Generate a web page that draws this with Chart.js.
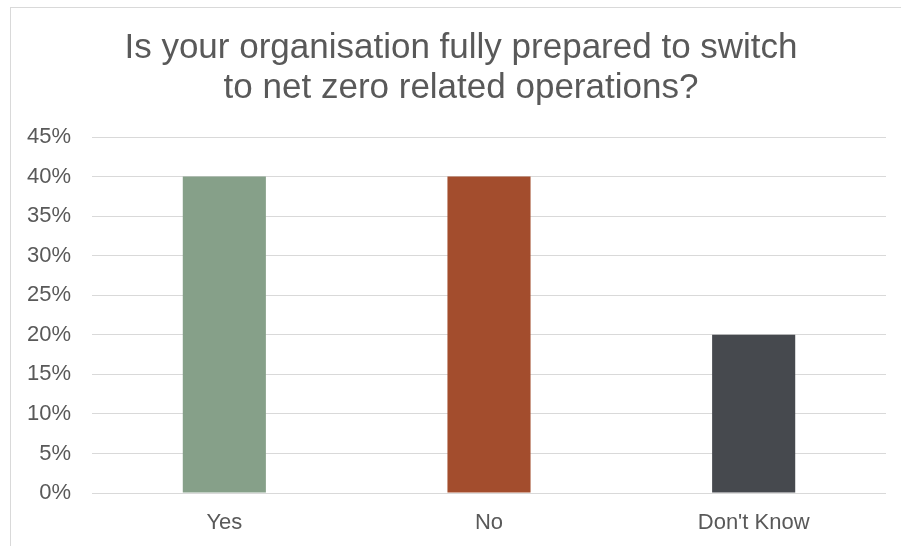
<!DOCTYPE html>
<html lang="en">
<head>
  <meta charset="UTF-8">
  <title>Net zero readiness</title>
  <script src="https://cdn.jsdelivr.net/npm/chart.js"></script>
  <style>
    html, body {
      margin: 0;
      padding: 0;
      background: #ffffff;
      overflow: hidden;
    }

    .chart-frame {
      position: absolute;
      left: 10px;
      top: 7px;
      width: 890px;
      height: 538px;
      border-left: 1px solid #d9d9d9;
      border-top: 1px solid #d9d9d9;
    }
  </style>
</head>
<body>
  <div class="chart-frame">
    <canvas id="readiness" width="890" height="538"></canvas>
  </div>

  <script>
    // Survey answers and share of respondents (%)
    const answers = ['Yes', 'No', "Don't Know"];
    const shares = [40, 40, 20];
    const barColours = ['#86a089', '#a34d2d', '#46494e'];
    const titleLines = ['Is your organisation fully prepared to switch', 'to net zero related operations?'];
    const axisMax = 45;
    const axisStep = 5;

    const grey = '#595959';
    const font = "'Liberation Sans', Arial, sans-serif";

    // two-line heading, centred a little right of the plot like the spreadsheet original
    const headingPlugin = {
      id: 'heading',
      afterDraw(chart) {
        const ctx = chart.ctx;
        ctx.save();
        ctx.fillStyle = grey;
        ctx.font = '35px ' + font;
        ctx.textAlign = 'center';
        ctx.textBaseline = 'alphabetic';
        titleLines.forEach(function(line, i) {
          ctx.fillText(line, 450, 50 + i * 40);
        });
        ctx.restore();
      }
    };

    new Chart(document.getElementById('readiness').getContext('2d'), {
      type: 'bar',
      data: {
        labels: answers,
        datasets: [{
          data: shares,
          backgroundColor: barColours,
          borderWidth: 0,
          categoryPercentage: 1,
          barPercentage: 0.314
        }]
      },
      options: {
        responsive: false,
        animation: false,
        layout: { padding: { left: 0, right: 15, top: 129, bottom: 0 } },
        plugins: {
          legend: { display: false },
          tooltip: { enabled: false },
          title: { display: false }
        },
        scales: {
          x: {
            grid: { display: false },
            border: { display: false },
            ticks: {
              color: grey,
              font: { family: font, size: 22 },
              padding: 9
            },
            afterFit: function(scale) { scale.height = 53; }
          },
          y: {
            min: 0,
            max: axisMax,
            grid: { color: '#d9d9d9', lineWidth: 1, drawTicks: false },
            border: { display: false },
            ticks: {
              stepSize: axisStep,
              color: grey,
              font: { family: font, size: 22 },
              padding: 21,
              callback: function(v) { return v + '%'; }
            },
            afterFit: function(scale) { scale.width = 81; }
          }
        }
      },
      plugins: [headingPlugin]
    });
  </script>
</body>
</html>
